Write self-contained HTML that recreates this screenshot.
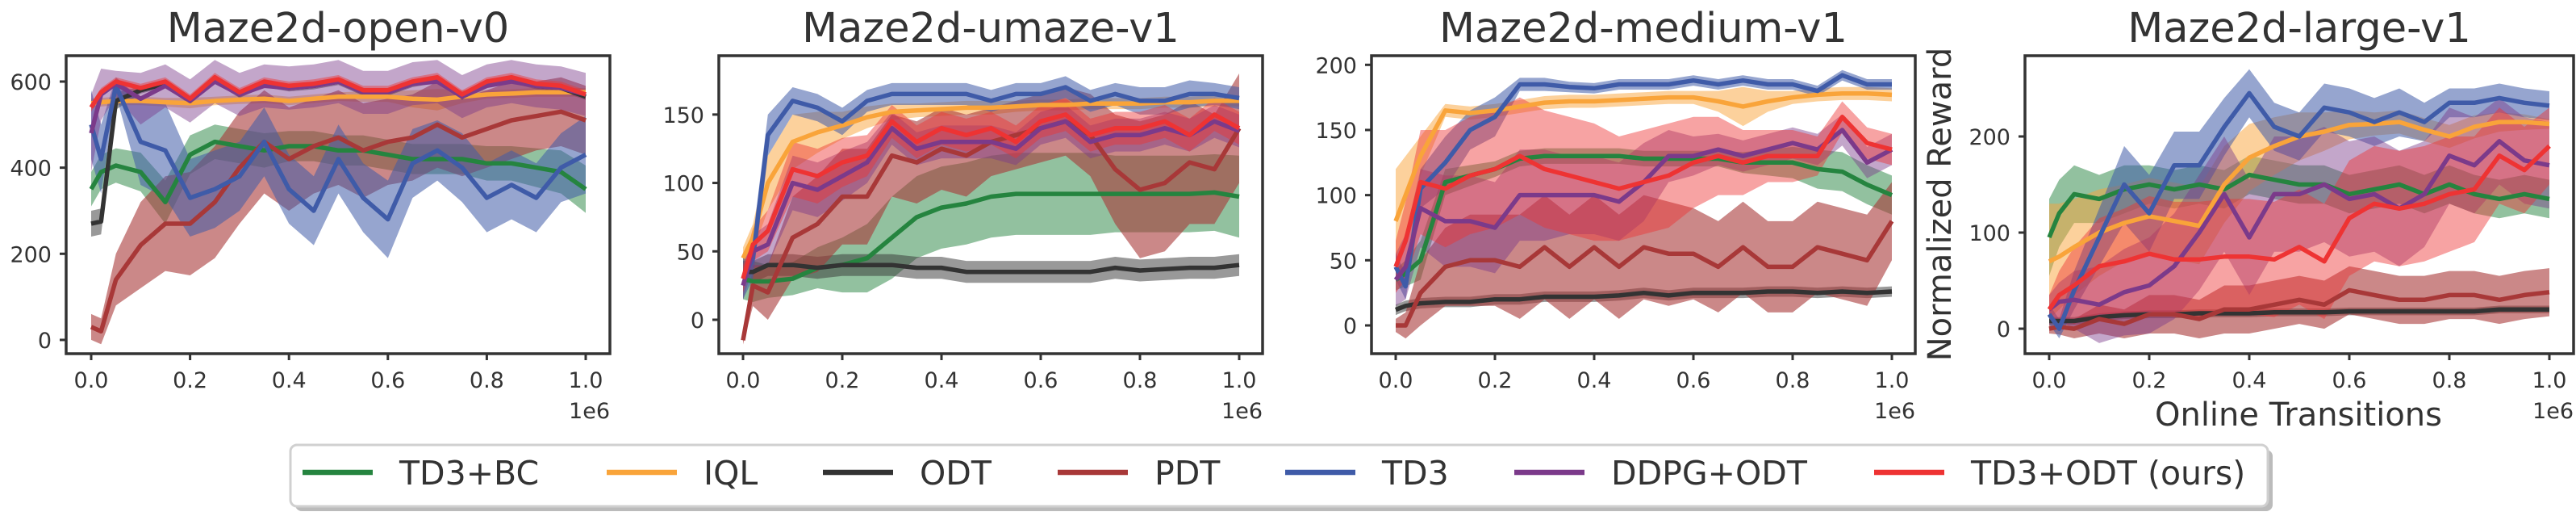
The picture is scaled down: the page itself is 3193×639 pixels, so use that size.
<!DOCTYPE html>
<html><head><meta charset="utf-8">
<style>
html,body{margin:0;padding:0;background:#fff;}
body{width:3193px;height:635px;overflow:hidden;position:relative;font-family:"DejaVu Sans","Liberation Sans",sans-serif;}
svg text{font-family:"DejaVu Sans","Liberation Sans",sans-serif;fill:#333;}
</style></head>
<body>
<svg id="chart" width="3193" height="635" viewBox="0 0 3193 635" xmlns="http://www.w3.org/2000/svg"></svg>
<script>
const xs=[0,0.02,0.05,0.1,0.15,0.2,0.25,0.3,0.35,0.4,0.45,0.5,0.55,0.6,0.65,0.7,0.75,0.8,0.85,0.9,0.95,1.0];
const seriesNames=["TD3+BC","IQL","ODT","PDT","TD3","DDPG+ODT","TD3+ODT (ours)"];
const seriesColors=["#25843f","#f9a43a","#333333","#a83838","#3f5ba8","#7b3a8a","#ee3333"];
const panelTitles=["Maze2d-open-v0","Maze2d-umaze-v1","Maze2d-medium-v1","Maze2d-large-v1"];
const xTicks=[0,0.2,0.4,0.6,0.8,1.0];
const xTickLabels=["0.0","0.2","0.4","0.6","0.8","1.0"];
const yTicksOpen=[0,200,400,600];
const yTicksUmaze=[0,50,100,150];
const yTicksMedium=[0,50,100,150,200];
const yTicksLarge=[0,100,200];

// open
const open_td3bc=[350,390,405,390,320,430,460,450,440,450,450,440,440,430,420,420,420,410,410,400,390,350];
const open_td3bc_sd=[40,40,40,45,50,45,40,40,40,35,35,35,35,35,35,35,35,40,40,45,50,55];
const open_iql=[550,552,555,555,552,550,555,558,560,555,560,565,565,565,560,558,565,570,572,575,575,575];
const open_iql_sd=[10,10,10,10,10,12,10,10,10,10,10,10,12,12,20,25,15,10,10,10,10,10];
const open_odt=[270,275,555,580,595,555,605,570,595,585,590,600,575,575,595,605,565,595,605,590,585,565];
const open_odt_sd=[30,30,20,8,8,8,8,8,8,8,8,8,8,8,8,8,8,8,8,8,8,8];
const open_pdt=[30,20,140,220,270,270,320,400,460,420,450,470,440,460,470,500,470,490,510,520,530,510];
const open_pdt_sd=[30,30,60,100,110,120,130,130,120,120,110,110,110,100,100,100,90,90,90,80,80,80];
const open_td3=[500,420,590,460,440,330,350,380,460,350,300,420,330,280,410,440,400,330,360,330,400,430];
const open_td3_sd=[80,80,20,100,110,90,90,80,80,80,80,80,80,90,80,70,80,80,80,80,80,90];
const open_ddpg=[480,570,595,560,590,555,600,570,590,585,590,600,575,575,595,600,565,590,600,590,585,570];
const open_ddpg_sd=[90,60,30,60,50,50,50,50,50,50,50,50,50,50,50,50,50,50,50,50,50,50];
const open_td3odt=[540,575,600,585,600,560,610,575,600,590,595,605,580,580,600,610,570,600,610,595,590,570];
const open_td3odt_sd=[10,10,10,10,10,10,10,10,10,10,10,10,10,10,10,10,10,10,10,10,10,10];

// umaze
const umaze_td3bc=[30,28,28,30,38,40,45,60,75,82,85,90,92,92,92,92,92,92,92,92,93,90];
const umaze_td3bc_sd=[15,15,12,12,15,20,25,30,30,30,30,30,30,30,30,30,28,28,28,28,28,30];
const umaze_iql=[45,60,100,130,137,142,148,152,153,154,155,155,156,157,157,158,158,158,159,159,160,160];
const umaze_iql_sd=[8,10,20,20,15,10,8,6,5,5,5,5,4,4,4,4,4,4,4,4,4,4];
const umaze_odt=[35,35,40,40,38,40,40,40,38,38,35,35,35,35,35,35,38,36,37,38,38,40];
const umaze_odt_sd=[8,8,8,8,8,8,8,8,8,8,8,8,8,8,8,8,8,8,8,8,8,8];
const umaze_pdt=[-15,25,20,60,70,90,90,120,115,125,120,130,135,140,145,135,110,95,100,115,110,140];
const umaze_pdt_sd=[3,15,20,30,35,35,35,30,30,30,30,25,25,25,25,30,40,50,50,45,40,40];
const umaze_td3=[30,45,135,160,155,145,160,165,165,165,165,160,165,165,170,160,165,160,160,165,165,162];
const umaze_td3_sd=[15,15,15,10,10,10,8,8,8,8,8,8,8,8,8,8,8,10,10,10,8,8];
const umaze_ddpg=[25,50,55,100,95,105,115,140,125,130,130,130,125,140,145,130,135,135,140,135,145,138];
const umaze_ddpg_sd=[10,12,15,20,20,18,15,12,12,12,12,12,12,12,12,12,12,12,12,12,12,12];
const umaze_td3odt=[30,55,65,110,105,115,120,145,130,140,135,140,130,145,150,135,140,140,145,135,150,140];
const umaze_td3odt_sd=[10,12,15,20,20,18,15,12,12,12,12,12,12,12,12,12,12,12,12,12,12,12];

// medium
const medium_td3bc=[35,40,50,110,115,120,128,130,130,130,130,128,128,128,128,125,125,125,120,118,108,100];
const medium_td3bc_sd=[8,10,15,10,8,6,6,6,6,6,6,6,6,6,6,8,10,12,15,15,15,15];
const medium_iql=[80,100,130,165,163,165,168,171,172,172,173,174,175,175,172,168,172,175,177,178,178,177];
const medium_iql_sd=[40,30,15,5,5,5,5,5,5,5,5,5,5,5,8,15,8,5,5,5,5,5];
const medium_odt=[12,15,17,18,18,20,20,22,22,22,23,25,23,25,25,25,26,26,25,26,25,26];
const medium_odt_sd=[4,4,4,4,4,4,4,4,4,4,4,4,4,4,4,4,4,4,4,4,4,4];
const medium_pdt=[0,0,25,45,50,50,45,60,45,60,45,60,55,55,45,60,45,45,60,55,50,80];
const medium_pdt_sd=[5,10,25,30,35,35,40,40,40,40,40,40,40,35,35,35,35,35,35,35,35,30];
const medium_td3=[45,30,105,125,150,160,185,185,183,182,185,185,185,188,185,188,185,185,180,192,185,185];
const medium_td3_sd=[10,10,15,20,15,15,5,5,4,4,4,4,4,4,4,4,4,4,4,4,4,4];
const medium_ddpg=[35,45,90,80,80,75,100,100,100,100,95,110,130,130,135,130,135,140,135,150,125,135];
const medium_ddpg_sd=[20,25,30,35,35,35,35,35,30,30,30,30,20,15,12,12,12,12,12,12,12,12];
const medium_td3odt=[45,65,110,105,115,120,130,120,115,110,105,110,115,125,130,125,130,130,130,160,140,135];
const medium_td3odt_sd=[20,30,40,45,45,45,45,45,45,45,40,40,40,35,30,25,20,20,15,12,12,12];

// large
const large_td3bc=[95,120,140,135,145,150,145,150,145,160,155,150,150,140,145,150,140,150,140,135,140,135];
const large_td3bc_sd=[40,35,30,25,25,20,20,20,20,20,20,20,20,20,20,20,20,20,20,20,20,20];
const large_iql=[70,75,85,100,110,117,112,107,150,178,190,200,205,212,213,215,207,200,210,215,215,213];
const large_iql_sd=[60,55,50,45,40,40,40,40,40,35,30,25,20,15,12,12,12,12,12,10,8,5];
const large_odt=[8,8,8,12,14,15,15,16,16,16,17,17,17,18,18,18,18,18,18,20,20,20];
const large_odt_sd=[4,4,4,4,4,4,4,4,4,4,4,4,4,4,4,4,4,4,4,4,4,4];
const large_pdt=[0,2,0,10,5,15,15,10,20,20,25,30,25,40,35,30,30,35,35,30,35,38];
const large_pdt_sd=[5,8,10,15,15,20,20,20,25,25,25,25,25,25,25,25,25,25,25,25,25,25];
const large_td3=[15,0,40,95,150,120,170,170,210,245,210,200,230,225,215,225,215,235,235,240,235,232];
const large_td3_sd=[10,10,20,30,40,40,35,35,30,25,25,25,25,25,25,25,20,15,15,15,15,15];
const large_ddpg=[20,28,30,25,38,45,65,100,140,95,140,140,150,135,140,125,140,180,170,195,175,170];
const large_ddpg_sd=[15,20,30,40,45,50,55,60,60,60,60,60,60,60,60,60,55,50,50,45,45,45];
const large_td3odt=[20,35,45,65,70,78,72,72,75,75,72,85,70,115,130,125,130,140,145,180,165,190];
const large_td3odt_sd=[15,25,40,50,55,60,60,60,60,60,60,60,60,60,60,60,60,60,55,50,45,40];

const NS="http://www.w3.org/2000/svg";
const svg=document.getElementById("chart");
function mk(tag,attrs,parent){const e=document.createElementNS(NS,tag);for(const k in attrs)e.setAttribute(k,attrs[k]);(parent||svg).appendChild(e);return e;}

const panels=[
 {key:"open",left:82,right:756,top:69,bottom:438,x0:113,x1:726,ymin:-32,ymax:660,yTicks:yTicksOpen,
  data:[[open_td3bc,open_td3bc_sd],[open_iql,open_iql_sd],[open_odt,open_odt_sd],[open_pdt,open_pdt_sd],[open_td3,open_td3_sd],[open_ddpg,open_ddpg_sd],[open_td3odt,open_td3odt_sd]]},
 {key:"umaze",left:891,right:1565,top:69,bottom:438,x0:921,x1:1536,ymin:-24.8,ymax:193,yTicks:yTicksUmaze,
  data:[[umaze_td3bc,umaze_td3bc_sd],[umaze_iql,umaze_iql_sd],[umaze_odt,umaze_odt_sd],[umaze_pdt,umaze_pdt_sd],[umaze_td3,umaze_td3_sd],[umaze_ddpg,umaze_ddpg_sd],[umaze_td3odt,umaze_td3odt_sd]]},
 {key:"medium",left:1700,right:2374,top:69,bottom:438,x0:1730,x1:2345,ymin:-21.7,ymax:207,yTicks:yTicksMedium,
  data:[[medium_td3bc,medium_td3bc_sd],[medium_iql,medium_iql_sd],[medium_odt,medium_odt_sd],[medium_pdt,medium_pdt_sd],[medium_td3,medium_td3_sd],[medium_ddpg,medium_ddpg_sd],[medium_td3odt,medium_td3odt_sd]]},
 {key:"large",left:2510,right:3190,top:69,bottom:438,x0:2540,x1:3160,ymin:-26,ymax:284,yTicks:yTicksLarge,
  data:[[large_td3bc,large_td3bc_sd],[large_iql,large_iql_sd],[large_odt,large_odt_sd],[large_pdt,large_pdt_sd],[large_td3,large_td3_sd],[large_ddpg,large_ddpg_sd],[large_td3odt,large_td3odt_sd]]}
];
const bandOpacity=[0.5,0.5,0.5,0.6,0.55,0.45,0.45];

panels.forEach((p,pi)=>{
  const g=mk("g",{});
  
  
  const sx=v=>p.x0+(p.x1-p.x0)*v;
  const sy=v=>p.bottom-(v-p.ymin)/(p.ymax-p.ymin)*(p.bottom-p.top);
  const cid="clip"+pi;
  const cp=mk("clipPath",{id:cid},g);
  mk("rect",{x:p.left,y:p.top,width:p.right-p.left,height:p.bottom-p.top},cp);
  const plot=mk("g",{"clip-path":"url(#"+cid+")"},g);
  p.data.forEach((d,si)=>{
    const m=d[0],s=d[1];
    let pts=xs.map((x,i)=>sx(x).toFixed(1)+","+sy(m[i]+s[i]).toFixed(1));
    for(let i=xs.length-1;i>=0;i--)pts.push(sx(xs[i]).toFixed(1)+","+sy(m[i]-s[i]).toFixed(1));
    const band=mk("polygon",{points:pts.join(" "),fill:seriesColors[si],"fill-opacity":bandOpacity[si],stroke:"none"},plot);
    
    
  });
  p.data.forEach((d,si)=>{
    const m=d[0];
    const pts=xs.map((x,i)=>sx(x).toFixed(1)+","+sy(m[i]).toFixed(1)).join(" ");
    const ln=mk("polyline",{points:pts,fill:"none",stroke:seriesColors[si],"stroke-width":5.5,"stroke-linejoin":"round"},plot);
    
    
  });
  const fr=mk("rect",{x:p.left,y:p.top,width:p.right-p.left,height:p.bottom-p.top,fill:"none",stroke:"#333","stroke-width":3.5},g);
  
  
  xTicks.forEach((t,i)=>{
    const x=sx(t);
    mk("line",{x1:x,x2:x,y1:p.bottom,y2:p.bottom+8,stroke:"#333","stroke-width":3},g);
    const tx=mk("text",{x:x,y:p.bottom+42,"font-size":27,"text-anchor":"middle"},g);
    tx.textContent=xTickLabels[i];
    
    
  });
  const e6=mk("text",{x:p.right,y:p.bottom+80,"font-size":27,"text-anchor":"end"},g);
  e6.textContent="1e6";
  
  
  p.yTicks.forEach(t=>{
    const y=sy(t);
    mk("line",{x1:p.left-8,x2:p.left,y1:y,y2:y,stroke:"#333","stroke-width":3},g);
    const ty=mk("text",{x:p.left-18,y:y+10,"font-size":27,"text-anchor":"end"},g);
    ty.textContent=String(t);
    
    
  });
  const tt=mk("text",{x:(p.left+p.right)/2,y:52,"font-size":51,"text-anchor":"middle"},g);
  tt.textContent=panelTitles[pi];
  
  
});

const yl=mk("text",{x:0,y:0,"font-size":40,"text-anchor":"middle",transform:"translate(2418,253) rotate(-90)"});
yl.textContent="Normalized Reward";


const xl=mk("text",{x:2849,y:527,"font-size":40,"text-anchor":"middle"});
xl.textContent="Online Transitions";



// legend
const lg=mk("g",{});


mk("rect",{x:366,y:557,width:2451,height:76,rx:8,fill:"#bbb"},lg);
mk("rect",{x:360,y:551,width:2451,height:76,rx:8,fill:"#fff",stroke:"#d0d0d0","stroke-width":3},lg);
const legendLineX=[375,752,1020,1311,1593,1877,2323];
seriesNames.forEach((n,i)=>{
  const eg=mk("g",{},lg);
  
  
  mk("line",{x1:legendLineX[i],x2:legendLineX[i]+87,y1:585,y2:585,stroke:seriesColors[i],"stroke-width":6.5},eg);
  const t=mk("text",{x:legendLineX[i]+120,y:600,"font-size":41},eg);
  t.textContent=n;
});
</script>
</body></html>
